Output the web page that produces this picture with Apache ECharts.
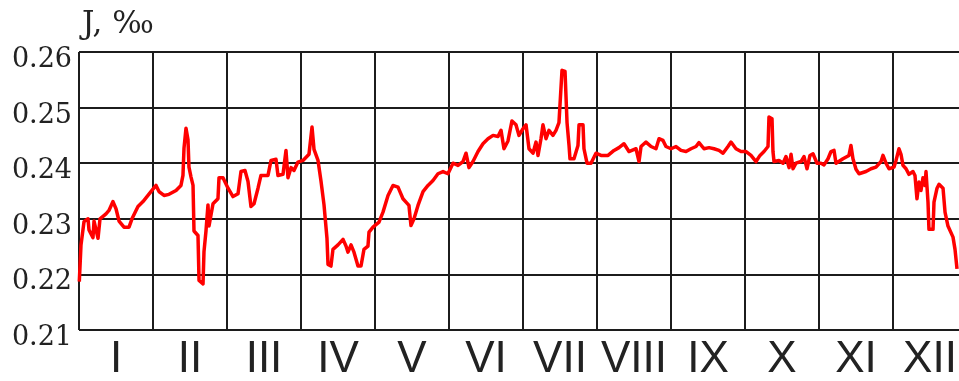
<!DOCTYPE html>
<html>
<head>
<meta charset="utf-8">
<style>
  html, body { margin: 0; padding: 0; background: #fff; }
  #chart { width: 959px; height: 381px; }
</style>
<script src="https://cdn.jsdelivr.net/npm/echarts@6/dist/echarts.min.js"></script>
</head>
<body>
<div id="chart"></div>
<script>
// Month labels along the time axis
const monthLabels = ['I', 'II', 'III', 'IV', 'V', 'VI', 'VII', 'VIII', 'IX', 'X', 'XI', 'XII'];

// Time position of each reading, in months from the start of the year
const monthPos = [
  0.004, 0.027, 0.068, 0.122, 0.135, 0.189, 0.203, 0.257, 0.284, 0.365,
  0.405, 0.459, 0.500, 0.541, 0.608, 0.676, 0.716, 0.797, 0.865, 0.932,
  0.986, 1.041, 1.081, 1.149, 1.216, 1.311, 1.378, 1.405, 1.419, 1.446,
  1.473, 1.486, 1.514, 1.541, 1.554, 1.608, 1.622, 1.676, 1.689, 1.716,
  1.743, 1.757, 1.811, 1.878, 1.892, 1.946, 2.014, 2.081, 2.149, 2.189,
  2.243, 2.284, 2.324, 2.365, 2.419, 2.459, 2.554, 2.595, 2.662, 2.689,
  2.757, 2.797, 2.824, 2.865, 2.905, 2.959, 3.027, 3.108, 3.149, 3.176,
  3.230, 3.270, 3.311, 3.351, 3.365, 3.405, 3.432, 3.500, 3.568, 3.608,
  3.635, 3.676, 3.716, 3.770, 3.811, 3.851, 3.905, 3.919, 3.973, 4.054,
  4.108, 4.176, 4.243, 4.311, 4.378, 4.419, 4.459, 4.486, 4.527, 4.581,
  4.649, 4.716, 4.784, 4.851, 4.919, 4.986, 5.054, 5.122, 5.189, 5.230,
  5.270, 5.324, 5.392, 5.459, 5.527, 5.595, 5.662, 5.703, 5.743, 5.797,
  5.851, 5.905, 5.946, 6.000, 6.041, 6.081, 6.135, 6.176, 6.203, 6.243,
  6.270, 6.311, 6.351, 6.405, 6.446, 6.486, 6.527, 6.568, 6.595, 6.622,
  6.635, 6.689, 6.743, 6.757, 6.811, 6.824, 6.865, 6.919, 6.986, 7.054,
  7.149, 7.230, 7.297, 7.365, 7.432, 7.459, 7.527, 7.568, 7.595, 7.662,
  7.730, 7.797, 7.838, 7.892, 7.932, 8.000, 8.068, 8.135, 8.203, 8.270,
  8.338, 8.378, 8.446, 8.514, 8.581, 8.649, 8.703, 8.770, 8.811, 8.878,
  8.946, 9.014, 9.081, 9.149, 9.203, 9.257, 9.311, 9.324, 9.365, 9.378,
  9.392, 9.459, 9.514, 9.554, 9.595, 9.622, 9.649, 9.689, 9.757, 9.797,
  9.838, 9.878, 9.919, 9.973, 10.027, 10.068, 10.122, 10.162, 10.203, 10.230,
  10.324, 10.405, 10.432, 10.459, 10.500, 10.541, 10.635, 10.703, 10.770, 10.838,
  10.865, 10.905, 10.946, 11.014, 11.041, 11.081, 11.108, 11.135, 11.176, 11.216,
  11.270, 11.297, 11.324, 11.351, 11.378, 11.405, 11.432, 11.446, 11.473, 11.486,
  11.541, 11.554, 11.595, 11.622, 11.676, 11.703, 11.743, 11.811, 11.838, 11.865
];

// Slope J, per mille
const jValues = [
  0.2187, 0.2253, 0.2295, 0.2300, 0.2280, 0.2266, 0.2296, 0.2265, 0.2300, 0.2309,
  0.2315, 0.2331, 0.2318, 0.2296, 0.2285, 0.2285, 0.2300, 0.2322, 0.2331, 0.2342,
  0.2351, 0.2360, 0.2349, 0.2342, 0.2344, 0.2351, 0.2360, 0.2378, 0.2427, 0.2463,
  0.2442, 0.2393, 0.2375, 0.2360, 0.2278, 0.2270, 0.2189, 0.2183, 0.2241, 0.2278,
  0.2325, 0.2287, 0.2327, 0.2336, 0.2374, 0.2374, 0.2355, 0.2340, 0.2345, 0.2385,
  0.2387, 0.2367, 0.2322, 0.2327, 0.2355, 0.2378, 0.2378, 0.2405, 0.2407, 0.2378,
  0.2380, 0.2423, 0.2374, 0.2392, 0.2387, 0.2402, 0.2405, 0.2416, 0.2465, 0.2425,
  0.2405, 0.2368, 0.2325, 0.2265, 0.2218, 0.2215, 0.2245, 0.2253, 0.2263, 0.2251,
  0.2240, 0.2253, 0.2240, 0.2215, 0.2215, 0.2245, 0.2251, 0.2276, 0.2285, 0.2294,
  0.2312, 0.2342, 0.2360, 0.2357, 0.2336, 0.2330, 0.2324, 0.2288, 0.2300, 0.2324,
  0.2349, 0.2360, 0.2369, 0.2381, 0.2385, 0.2381, 0.2400, 0.2396, 0.2403, 0.2418,
  0.2392, 0.2403, 0.2421, 0.2435, 0.2444, 0.2450, 0.2448, 0.2459, 0.2426, 0.2440,
  0.2476, 0.2469, 0.2450, 0.2462, 0.2469, 0.2426, 0.2418, 0.2438, 0.2414, 0.2444,
  0.2469, 0.2444, 0.2459, 0.2450, 0.2459, 0.2473, 0.2567, 0.2565, 0.2473, 0.2432,
  0.2408, 0.2408, 0.2432, 0.2469, 0.2469, 0.2426, 0.2400, 0.2400, 0.2418, 0.2414,
  0.2414, 0.2423, 0.2428, 0.2435, 0.2421, 0.2421, 0.2426, 0.2403, 0.2430, 0.2438,
  0.2430, 0.2426, 0.2444, 0.2441, 0.2430, 0.2426, 0.2430, 0.2423, 0.2421, 0.2426,
  0.2430, 0.2437, 0.2426, 0.2428, 0.2426, 0.2423, 0.2418, 0.2430, 0.2438, 0.2426,
  0.2421, 0.2421, 0.2414, 0.2403, 0.2414, 0.2421, 0.2430, 0.2483, 0.2480, 0.2421,
  0.2403, 0.2405, 0.2400, 0.2412, 0.2392, 0.2416, 0.2390, 0.2400, 0.2403, 0.2412,
  0.2390, 0.2414, 0.2417, 0.2400, 0.2400, 0.2397, 0.2408, 0.2421, 0.2423, 0.2400,
  0.2408, 0.2414, 0.2432, 0.2408, 0.2389, 0.2381, 0.2385, 0.2390, 0.2393, 0.2403,
  0.2414, 0.2400, 0.2390, 0.2393, 0.2405, 0.2426, 0.2416, 0.2396, 0.2390, 0.2380,
  0.2385, 0.2378, 0.2336, 0.2366, 0.2351, 0.2374, 0.2360, 0.2385, 0.2330, 0.2281,
  0.2281, 0.2330, 0.2355, 0.2362, 0.2355, 0.2312, 0.2287, 0.2267, 0.2245, 0.2210
];

const series = monthPos.map((m, i) => [m, jValues[i]]);

const gridLine = { show: true, lineStyle: { color: '#1c1c1c', width: 2 } };
const serifFont = '"DejaVu Serif", "Liberation Serif", serif';

const chart = echarts.init(document.getElementById('chart'), null, { renderer: 'canvas' });
chart.setOption({
  animation: false,
  backgroundColor: '#ffffff',
  grid: { left: 79, top: 52, right: -8, bottom: 51, containLabel: false, outerBoundsMode: 'none' },
  graphic: [{
    type: 'text',
    left: 82,
    top: 9,
    style: {
      text: 'J, ‰',
      font: '31px ' + serifFont,
      fill: '#222'
    }
  }],
  xAxis: [
    {
      type: 'value', min: 0, max: 12, interval: 1,
      axisLine: { show: false }, axisTick: { show: false }, axisLabel: { show: false },
      splitLine: gridLine
    },
    {
      type: 'category', data: monthLabels, position: 'bottom', boundaryGap: true,
      axisLine: { show: false }, axisTick: { show: false }, splitLine: { show: false },
      axisLabel: {
        interval: 0, margin: 8, color: '#222', fontSize: 44,
        fontFamily: '"Liberation Sans", Arial, sans-serif'
      }
    }
  ],
  yAxis: {
    type: 'value', min: 0.21, max: 0.26, interval: 0.01,
    axisLine: { show: false }, axisTick: { show: false },
    splitLine: gridLine,
    axisLabel: {
      margin: 7, color: '#222', fontSize: 27,
      fontFamily: serifFont,
      verticalAlign: 'top',
      lineHeight: 16,
      formatter: v => v.toFixed(2)
    }
  },
  series: [{
    type: 'line', xAxisIndex: 0, data: series,
    showSymbol: false, symbol: 'none',
    lineStyle: { color: '#ff0000', width: 3.5, join: 'round' },
    z: 5
  }]
});
</script>
</body>
</html>
